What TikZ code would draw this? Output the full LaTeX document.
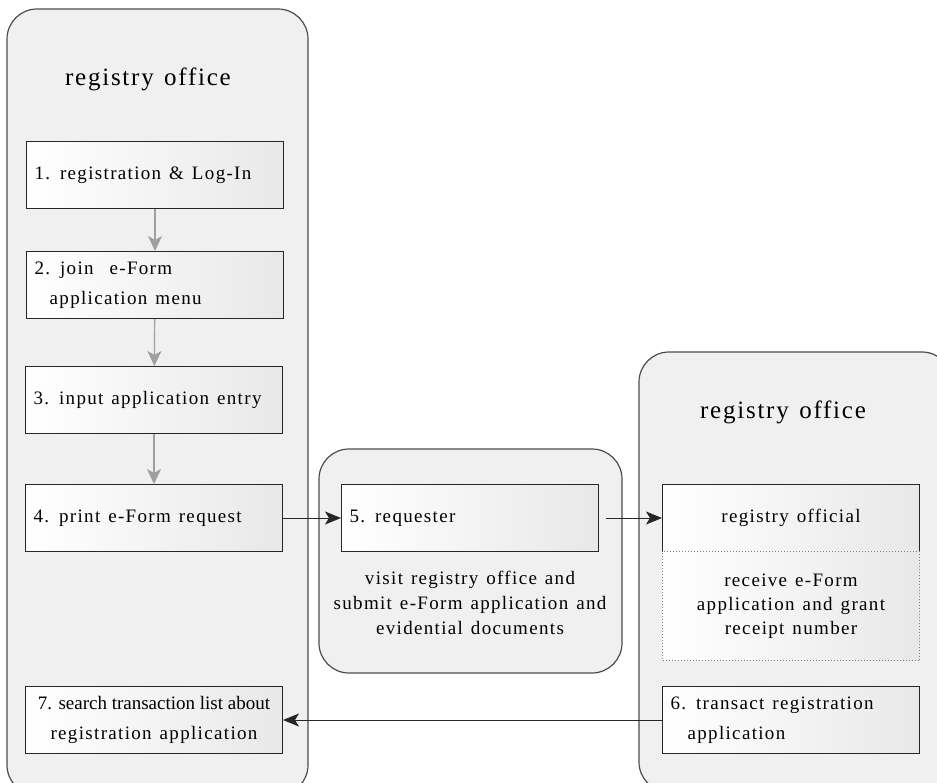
\documentclass[tikz,border=0pt]{standalone}
\usepackage{fontspec}
\setmainfont{Liberation Serif}[LetterSpace=7]
\usetikzlibrary{arrows.meta,positioning}
\newcommand\widesp{\spaceskip=0.42em\relax}
\newcommand\narrowsp{\addfontfeature{LetterSpace=0}\spaceskip=0pt\relax}

\tikzset{
  office/.style={draw=black!70, line width=1.2pt, fill=gray!12, rounded corners=30pt},
  title/.style={font=\fontsize{25}{28}\selectfont\widesp},
  stepbox/.style={draw=black!85, line width=1pt, left color=white, right color=gray!18,
    minimum width=257pt, minimum height=67pt, text width=241pt, inner xsep=8pt,
    align=flush left, anchor=north west, font=\fontsize{19}{30}\selectfont\widesp},
  note/.style={align=flush center, font=\fontsize{19}{25}\selectfont\widesp},
  flow/.style={-{Stealth[length=15pt,width=14pt,inset=4pt]}, draw=gray!75, line width=1.2pt},
  pass/.style={-{Stealth[length=16pt,width=13pt,inset=4pt]}, draw=black!85, line width=1pt},
}

\begin{document}
\begin{tikzpicture}[x=1pt,y=-1pt]
\useasboundingbox (0,0) rectangle (937,782);
\clip (0,0) rectangle (937,782);

% offices
\draw[office] (7,9) rectangle (308,795);
\draw[office] (319,449) rectangle (622,673);
\draw[office] (639,352) rectangle (952,792);
\node[title] (lefttitle) at (148,79) {registry office};
\node[title] (righttitle) at (783,412) {registry office};

% left column
\node[stepbox] (login) at (26,141) {1. registration \& Log-In};
\node[stepbox] (menu) at (26,251) {2. join\ \ e-Form\\\hspace*{0.8em}application menu};
\node[stepbox] (entry) at (25,366) {3. input application entry};
\node[stepbox] (print) at (25,484) {4. print e-Form request};
\node[stepbox, align=flush center, text width=253pt, inner xsep=2pt] (search) at (25,686)
  {{\narrowsp 7. search transaction list about}\\registration application};

% requester
\node[stepbox] (requester) at (341,484) {5. requester};
\node[note] (visit) at (470,603) {visit registry office and\\submit e-Form application and\\evidential documents};

% right column
\node[stepbox, align=flush center] (official) at (662,484) {registry official};
\node[stepbox, align=flush center, draw=gray, dotted, minimum height=109pt,
  font=\fontsize{19}{24}\selectfont\widesp] (receive) at (662,551)
  {receive e-Form\\application and grant\\receipt number};
\node[stepbox] (transact) at (662,686) {6. transact registration\\\hspace*{0.9em}application};

% arrows
\draw[flow] (login) -- (menu);
\draw[flow] (menu) -- (entry);
\draw[flow] (entry) -- (print);
\draw[pass] (print) -- (requester);
\draw[pass] ([xshift=7pt]requester.east) -- (official);
\draw[pass] (transact) -- (search);
\end{tikzpicture}
\end{document}
